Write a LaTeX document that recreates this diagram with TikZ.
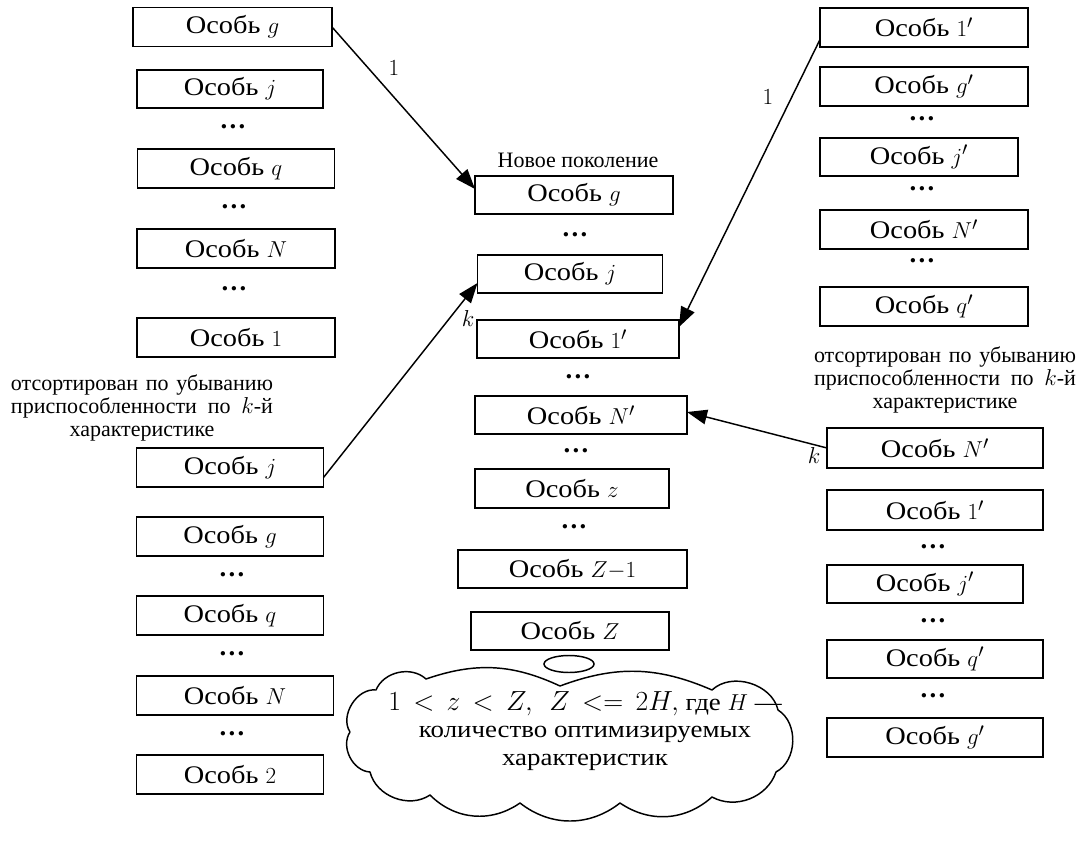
\documentclass[tikz,border=0pt]{standalone}
\usepackage{fontspec}
\setmainfont{Liberation Serif}
\newfontfamily\boxfont{Liberation Serif}[FakeStretch=1.12]
\usetikzlibrary{shapes.geometric,arrows.meta,calc}
\newcommand\bfs{\boxfont\fontsize{19}{22}\selectfont}
\newcommand\cfs{\boxfont\fontsize{18}{20.5}\selectfont}
\newcommand\lfs{\fontsize{16.5}{17.25}\selectfont}
\tikzset{
  x=0.75pt, y=-0.75pt,
  obox/.style={draw, line width=1.1pt, rectangle, inner sep=0pt, outer sep=0pt, font=\bfs},
  dotsn/.style={inner sep=0pt, font=\bfseries\fontsize{20}{20}\selectfont},
  lbl/.style={inner sep=0pt, font=\lfs, align=center},
  ctext/.style={inner sep=0pt, font=\cfs, align=center},
  arrlbl/.style={inner sep=0pt, font=\bfs},
  arr/.style={line width=1.1pt, -{Triangle[length=15pt,width=11pt]}},
  cloudline/.style={line width=1.1pt, line join=round},
}
\newcommand\ob[6]{\node[obox, minimum width=#4*0.75pt, minimum height=#5*0.75pt] (#1) at (#2,#3) {Особь #6};}
\newcommand\dt[3]{\node[dotsn] (#1) at (#2,#3) {…};}
\newcommand\sortlabel{\makebox[196.5pt][s]{отсортирован по убыванию}\\\makebox[196.5pt][s]{приспособленности по $k$-й}\\характеристике}
\begin{document}
\begin{tikzpicture}
\useasboundingbox (0,0) rectangle (1077,852);
% left column, top group
\ob{Lg}{232.5}{27}{199}{39}{$g$}
\ob{Lj}{230}{89}{186}{38}{$j$}
\dt{Ld1}{233}{127}
\ob{Lq}{236}{168.5}{197}{39}{$q$}
\dt{Ld2}{234}{207}
\ob{LN}{236}{248.5}{198}{39}{$N$}
\dt{Ld3}{234}{289}
\ob{Lone}{236}{337.5}{198}{39}{$1$}
\node[lbl] (Llab) at (142,408) {\sortlabel};
% left column, bottom group
\ob{Lj2}{230}{467.5}{187}{39}{$j$}
\ob{Lg2}{230}{536.5}{187}{39}{$g$}
\dt{Ld4}{232}{575}
\ob{Lq2}{230}{615.5}{187}{39}{$q$}
\dt{Ld5}{232}{654}
\ob{LN2}{235}{695.5}{197}{39}{$N$}
\dt{Ld6}{232}{734}
\ob{Ltwo}{230}{774.5}{187}{39}{$2$}
% center column
\node[lbl] (Ctitle) at (578,160) {Новое поколение};
\ob{Cg}{574}{195}{198}{38}{$g$}
\dt{Cd1}{575}{235}
\ob{Cj}{570}{274}{185}{38}{$j$}
\ob{Cone}{578}{339}{202}{38}{$1'$}
\dt{Cd2}{578}{377}
\ob{CN}{581}{415}{212}{38}{$N'$}
\dt{Cd3}{576}{451}
\ob{Cz}{572}{488.5}{194}{39}{$z$}
\dt{Cd4}{574}{527}
\ob{CZa}{572.5}{569}{229}{38}{$Z{-}1$}
\ob{CZ}{570}{631}{198}{38}{$Z$}
\node[draw, line width=1.1pt, ellipse, minimum width=50*0.75pt, minimum height=17*0.75pt, inner sep=0pt] (bub) at (569,664) {};
% cloud outline
\coordinate (cA) at (350,732);
\coordinate (cB) at (376,690);
\coordinate (cC) at (426,679);
\coordinate (cD) at (560,686);
\coordinate (cE) at (712,690);
\coordinate (cF) at (778,710);
\coordinate (cG) at (776,772);
\coordinate (cH) at (712,797);
\coordinate (cI) at (620,803);
\coordinate (cJ) at (520,803);
\coordinate (cK) at (430,795);
\coordinate (cL) at (370,772);
\draw[cloudline] (cA) to[bend left=65] (cB) to[bend left=55] (cC) to[bend left=22] (cD)
  to[bend left=22] (cE) to[bend left=60] (cF) to[bend left=60] (cG) to[bend left=50] (cH)
  to[bend left=38] (cI) to[bend left=38] (cJ) to[bend left=40] (cK) to[bend left=55] (cL)
  to[bend left=60] (cA);
\node[ctext] (cltext) at (585,731) {{\fontsize{20}{20.5}\selectfont\thickmuskip=8mu plus 5mu $1 < z < Z,\; Z <= 2H,$} где $H$ —\\количество оптимизируемых\\характеристик};
% right column, top group
\ob{Rone}{924}{27.5}{208}{39}{$1'$}
\ob{Rg}{924}{86.5}{208}{39}{$g'$}
\dt{Rd1}{922}{119}
\ob{Rj}{919}{157}{198}{38}{$j'$}
\dt{Rd2}{922}{189}
\ob{RN}{924}{229.5}{208}{39}{$N'$}
\dt{Rd3}{922}{261}
\ob{Rq}{924}{306.5}{208}{39}{$q'$}
\node[lbl] (Rlab) at (945,380) {\sortlabel};
% right column, bottom group
\ob{RN2}{935}{448}{216}{40}{$N'$}
\ob{Rone2}{935}{510}{216}{40}{$1'$}
\dt{Rd4}{933}{547}
\ob{Rj2}{925}{584}{196}{38}{$j'$}
\dt{Rd5}{933}{621}
\ob{Rq2}{935}{659}{216}{38}{$q'$}
\dt{Rd6}{933}{696}
\ob{Rg2}{935}{737.5}{216}{39}{$g'$}
% arrows
\draw[arr] (Lg.east) -- ($(Cg.west)+(0,-6)$);
\draw[arr] ($(Lj2.east)+(0,10)$) -- ($(Cj.south west)+(0,-10)$);
\draw[arr] ($(Rone.west)+(0,12)$) -- ($(Cone.east)+(0,-12)$);
\draw[arr] (RN2.west) -- ($(CN.east)+(0,-3)$);
\node[arrlbl] (l1a) at (394,68) {$1$};
\node[arrlbl] (l1b) at (768,97) {$1$};
\node[arrlbl] (lka) at (468,318) {$k$};
\node[arrlbl] (lkb) at (814,455) {$k$};
\end{tikzpicture}
\end{document}
